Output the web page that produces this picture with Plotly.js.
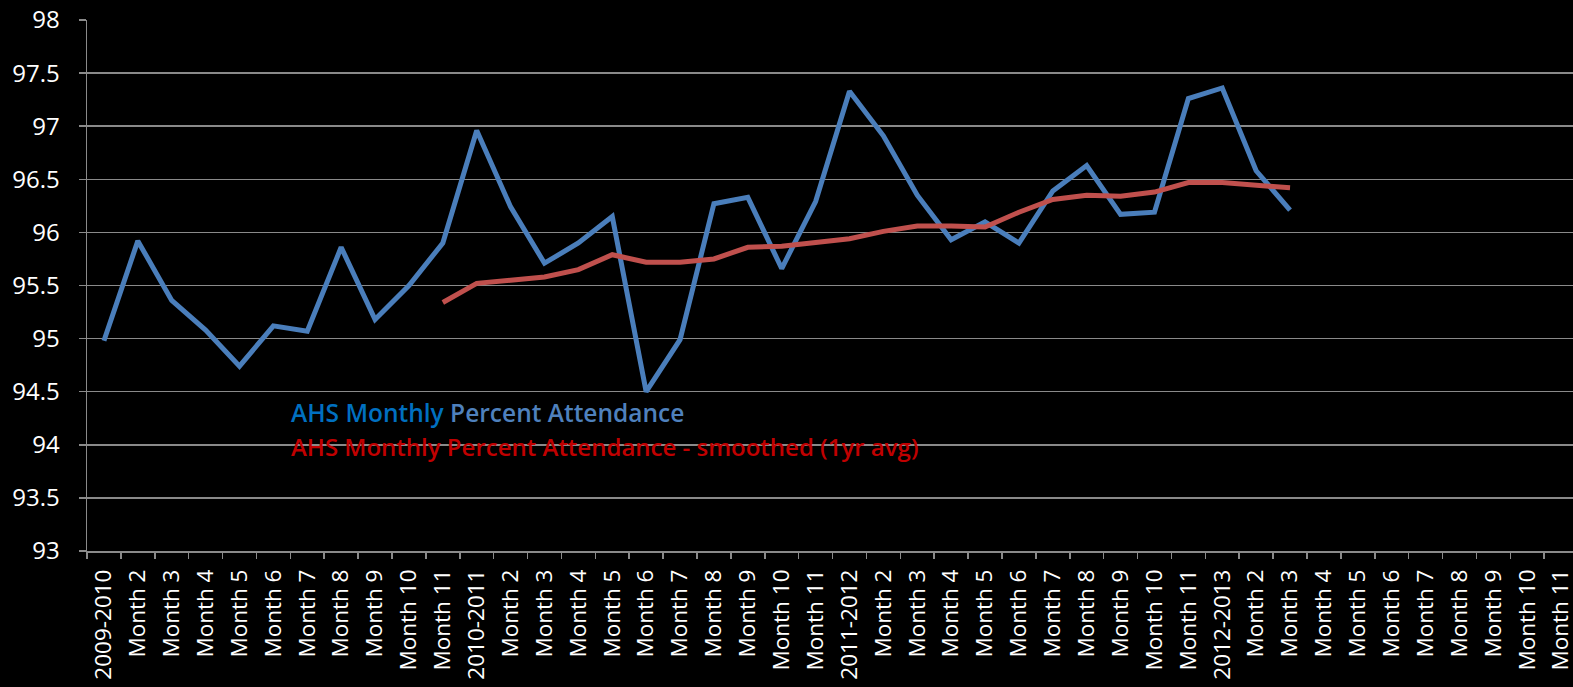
<!DOCTYPE html>
<html>
<head>
<meta charset="utf-8">
<script src="https://cdn.plot.ly/plotly-3.0.1.min.js"></script>
<style>
  html, body { margin: 0; padding: 0; background: #000; }
  #chart { width: 1573px; height: 687px; }
</style>
</head>
<body>
<div id="chart"></div>
<script>
// school years, each followed by months 2..11
const years = ['2009-2010', '2010-2011', '2011-2012', '2012-2013'];
const tickLabels = [];
years.forEach(function (y) {
    tickLabels.push(y);
    for (let m = 2; m <= 11; m++) tickLabels.push('Month ' + m);
});

// monthly attendance (%)
const monthly = [
    94.98, 95.92, 95.36, 95.08, 94.74, 95.12, 95.07, 95.86, 95.18, 95.50, 95.90,
    96.96, 96.24, 95.71, 95.90, 96.15, 94.50, 94.99, 96.27, 96.33, 95.66, 96.29,
    97.33, 96.91, 96.35, 95.93, 96.10, 95.90, 96.39, 96.63, 96.17, 96.19, 97.26,
    97.36, 96.58, 96.21
];

// 1 year moving average, starts at the 11th month
const smoothed = [
    null, null, null, null, null, null, null, null, null, null, 95.34,
    95.52, 95.55, 95.58, 95.65, 95.79, 95.72, 95.72, 95.75, 95.86, 95.87, 95.91,
    95.94, 96.01, 96.06, 96.06, 96.05, 96.19, 96.31, 96.35, 96.34, 96.38, 96.47,
    96.47, 96.44, 96.42
];

// labels repeat ("Month 2" every year) so the axis is positional
const idx = tickLabels.map(function (_, i) { return i; });
const boundaries = idx.concat([tickLabels.length]).map(function (i) { return i - 0.5; });

const gridGray = '#8a8a8a';

const traces = [
    {
        x: idx.slice(0, monthly.length),
        y: monthly,
        type: 'scatter',
        mode: 'lines',
        line: { color: '#4a7ebb', width: 5 },
        name: 'AHS Monthly Percent Attendance'
    },
    {
        x: idx.slice(0, smoothed.length),
        y: smoothed,
        type: 'scatter',
        mode: 'lines',
        connectgaps: false,
        line: { color: '#c0504d', width: 5 },
        name: 'AHS Monthly Percent Attendance - smoothed (1yr avg)'
    },
    // carrier for the boundary tick axis
    { x: [0], y: [null], xaxis: 'x2', type: 'scatter', mode: 'lines', hoverinfo: 'skip' }
];

const xRange = [-0.5, tickLabels.length - 0.65];

const layout = {
    width: 1573,
    height: 687,
    margin: { l: 87, r: 0, t: 20, b: 136 },
    paper_bgcolor: '#000000',
    plot_bgcolor: '#000000',
    showlegend: false,
    font: { family: 'Open Sans', color: '#ffffff' },
    xaxis: {
        range: xRange,
        tickmode: 'array',
        tickvals: idx,
        ticktext: tickLabels,
        showgrid: false,
        zeroline: false,
        showline: true,
        linecolor: gridGray,
        linewidth: 1.5,
        ticks: '',
        tickangle: -90,
        ticklabelstandoff: 8,
        ticklabeloverflow: 'allow',
        tickfont: { family: 'Open Sans', size: 22.5, color: '#ffffff' },
        automargin: false,
        fixedrange: true
    },
    xaxis2: {
        overlaying: 'x',
        matches: 'x',
        side: 'bottom',
        range: xRange,
        tickmode: 'array',
        tickvals: boundaries,
        showticklabels: false,
        showgrid: false,
        zeroline: false,
        showline: false,
        ticks: 'outside',
        ticklen: 7,
        tickwidth: 1.5,
        tickcolor: gridGray,
        automargin: false,
        fixedrange: true
    },
    yaxis: {
        range: [93, 98],
        dtick: 0.5,
        tick0: 93,
        showgrid: true,
        gridcolor: gridGray,
        gridwidth: 1.5,
        zeroline: false,
        showline: true,
        linecolor: gridGray,
        linewidth: 1.5,
        ticks: 'outside',
        ticklen: 7,
        tickwidth: 1.5,
        tickcolor: gridGray,
        ticklabelstandoff: 14,
        tickfont: { family: 'Open Sans', size: 24, color: '#ffffff' },
        automargin: false,
        fixedrange: true
    },
    annotations: [
        {
            xref: 'paper', yref: 'paper',
            x: 0.136, y: 0.261,
            xanchor: 'left', yanchor: 'middle',
            showarrow: false,
            font: { family: 'Open Sans', size: 24.5, weight: 600 },
            text: '<span style="color:#0070c0">AHS Monthly</span> <span style="color:#4f81bd">Percent Attendance</span>'
        },
        {
            xref: 'paper', yref: 'paper',
            x: 0.136, y: 0.196,
            xanchor: 'left', yanchor: 'middle',
            showarrow: false,
            font: { family: 'Open Sans', size: 24, weight: 600, color: '#c00000' },
            text: 'AHS Monthly Percent Attendance - smoothed (1yr avg)'
        }
    ]
};

Plotly.newPlot('chart', traces, layout, { displayModeBar: false, staticPlot: true });
</script>
</body>
</html>
